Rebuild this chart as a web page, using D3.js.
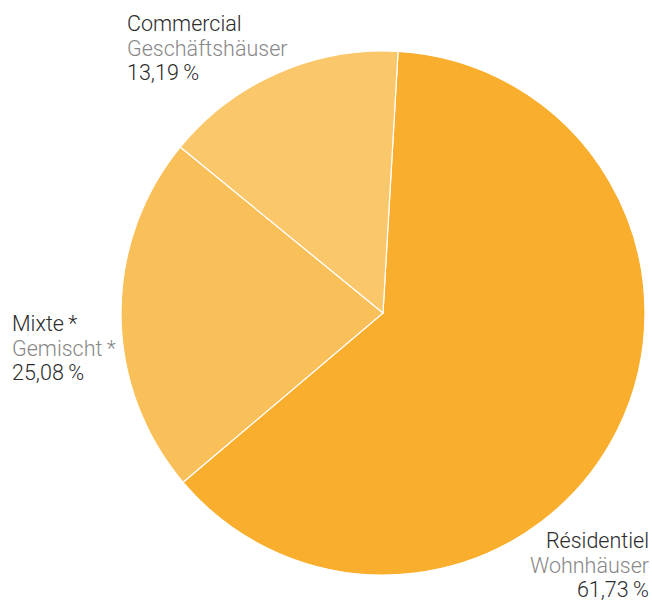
<!DOCTYPE html>
<html>
<head>
<meta charset="utf-8">
<script src="https://cdn.jsdelivr.net/npm/d3@7"></script>
<style>
  body { margin: 0; background: #fff; }
  text { font-family: Roboto, "Liberation Sans", sans-serif; font-weight: 300; }
</style>
</head>
<body>
<svg id="chart" width="652" height="604"></svg>
<script>
// categories, in drawing order (clockwise from the top)
const names = ["Résidentiel", "Mixte\u2009*", "Commercial"];
const namesDe = ["Wohnhäuser", "Gemischt\u2009*", "Geschäftshäuser"];
const pctLabels = ["61,73\u2009%", "25,08\u2009%", "13,19\u2009%"];
// slice sizes as drawn in the picture (share of the full circle, %)
const shares = [62.9, 22.1, 15.0];
const colors = ["#f9ae2d", "#f9bf59", "#fbc76b"];

const svg = d3.select("#chart");
const cx = 383, cy = 313, radius = 262;

const pie = d3.pie()
  .sort(null)
  .value(d => d)
  .startAngle(3.3 * Math.PI / 180)
  .endAngle(3.3 * Math.PI / 180 + 2 * Math.PI);

const arc = d3.arc().innerRadius(0).outerRadius(radius);

const g = svg.append("g").attr("transform", `translate(${cx},${cy})`);

g.selectAll("path")
  .data(pie(shares))
  .enter()
  .append("path")
  .attr("d", arc)
  .attr("fill", (d, i) => colors[i])
  .attr("stroke", "#fff")
  .attr("stroke-width", 1.2);

// label blocks: x / anchor / first baseline
const labelPos = [
  {x: 649, y: 548, anchor: "end"},
  {x: 12, y: 331, anchor: "start"},
  {x: 127, y: 31, anchor: "start"}
];

const labels = svg.selectAll("g.label")
  .data(names)
  .enter()
  .append("g")
  .attr("class", "label")
  .attr("transform", (d, i) => `translate(${labelPos[i].x},${labelPos[i].y})`)
  .attr("text-anchor", (d, i) => labelPos[i].anchor)
  .style("font-size", "21.5px");

labels.append("text").attr("fill", "#2b2b2b").text(d => d);
labels.append("text").attr("y", 24.7).attr("fill", "#878787").text((d, i) => namesDe[i]);
labels.append("text").attr("y", 49.4).attr("fill", "#2b2b2b").text((d, i) => pctLabels[i]);
</script>
</body>
</html>
